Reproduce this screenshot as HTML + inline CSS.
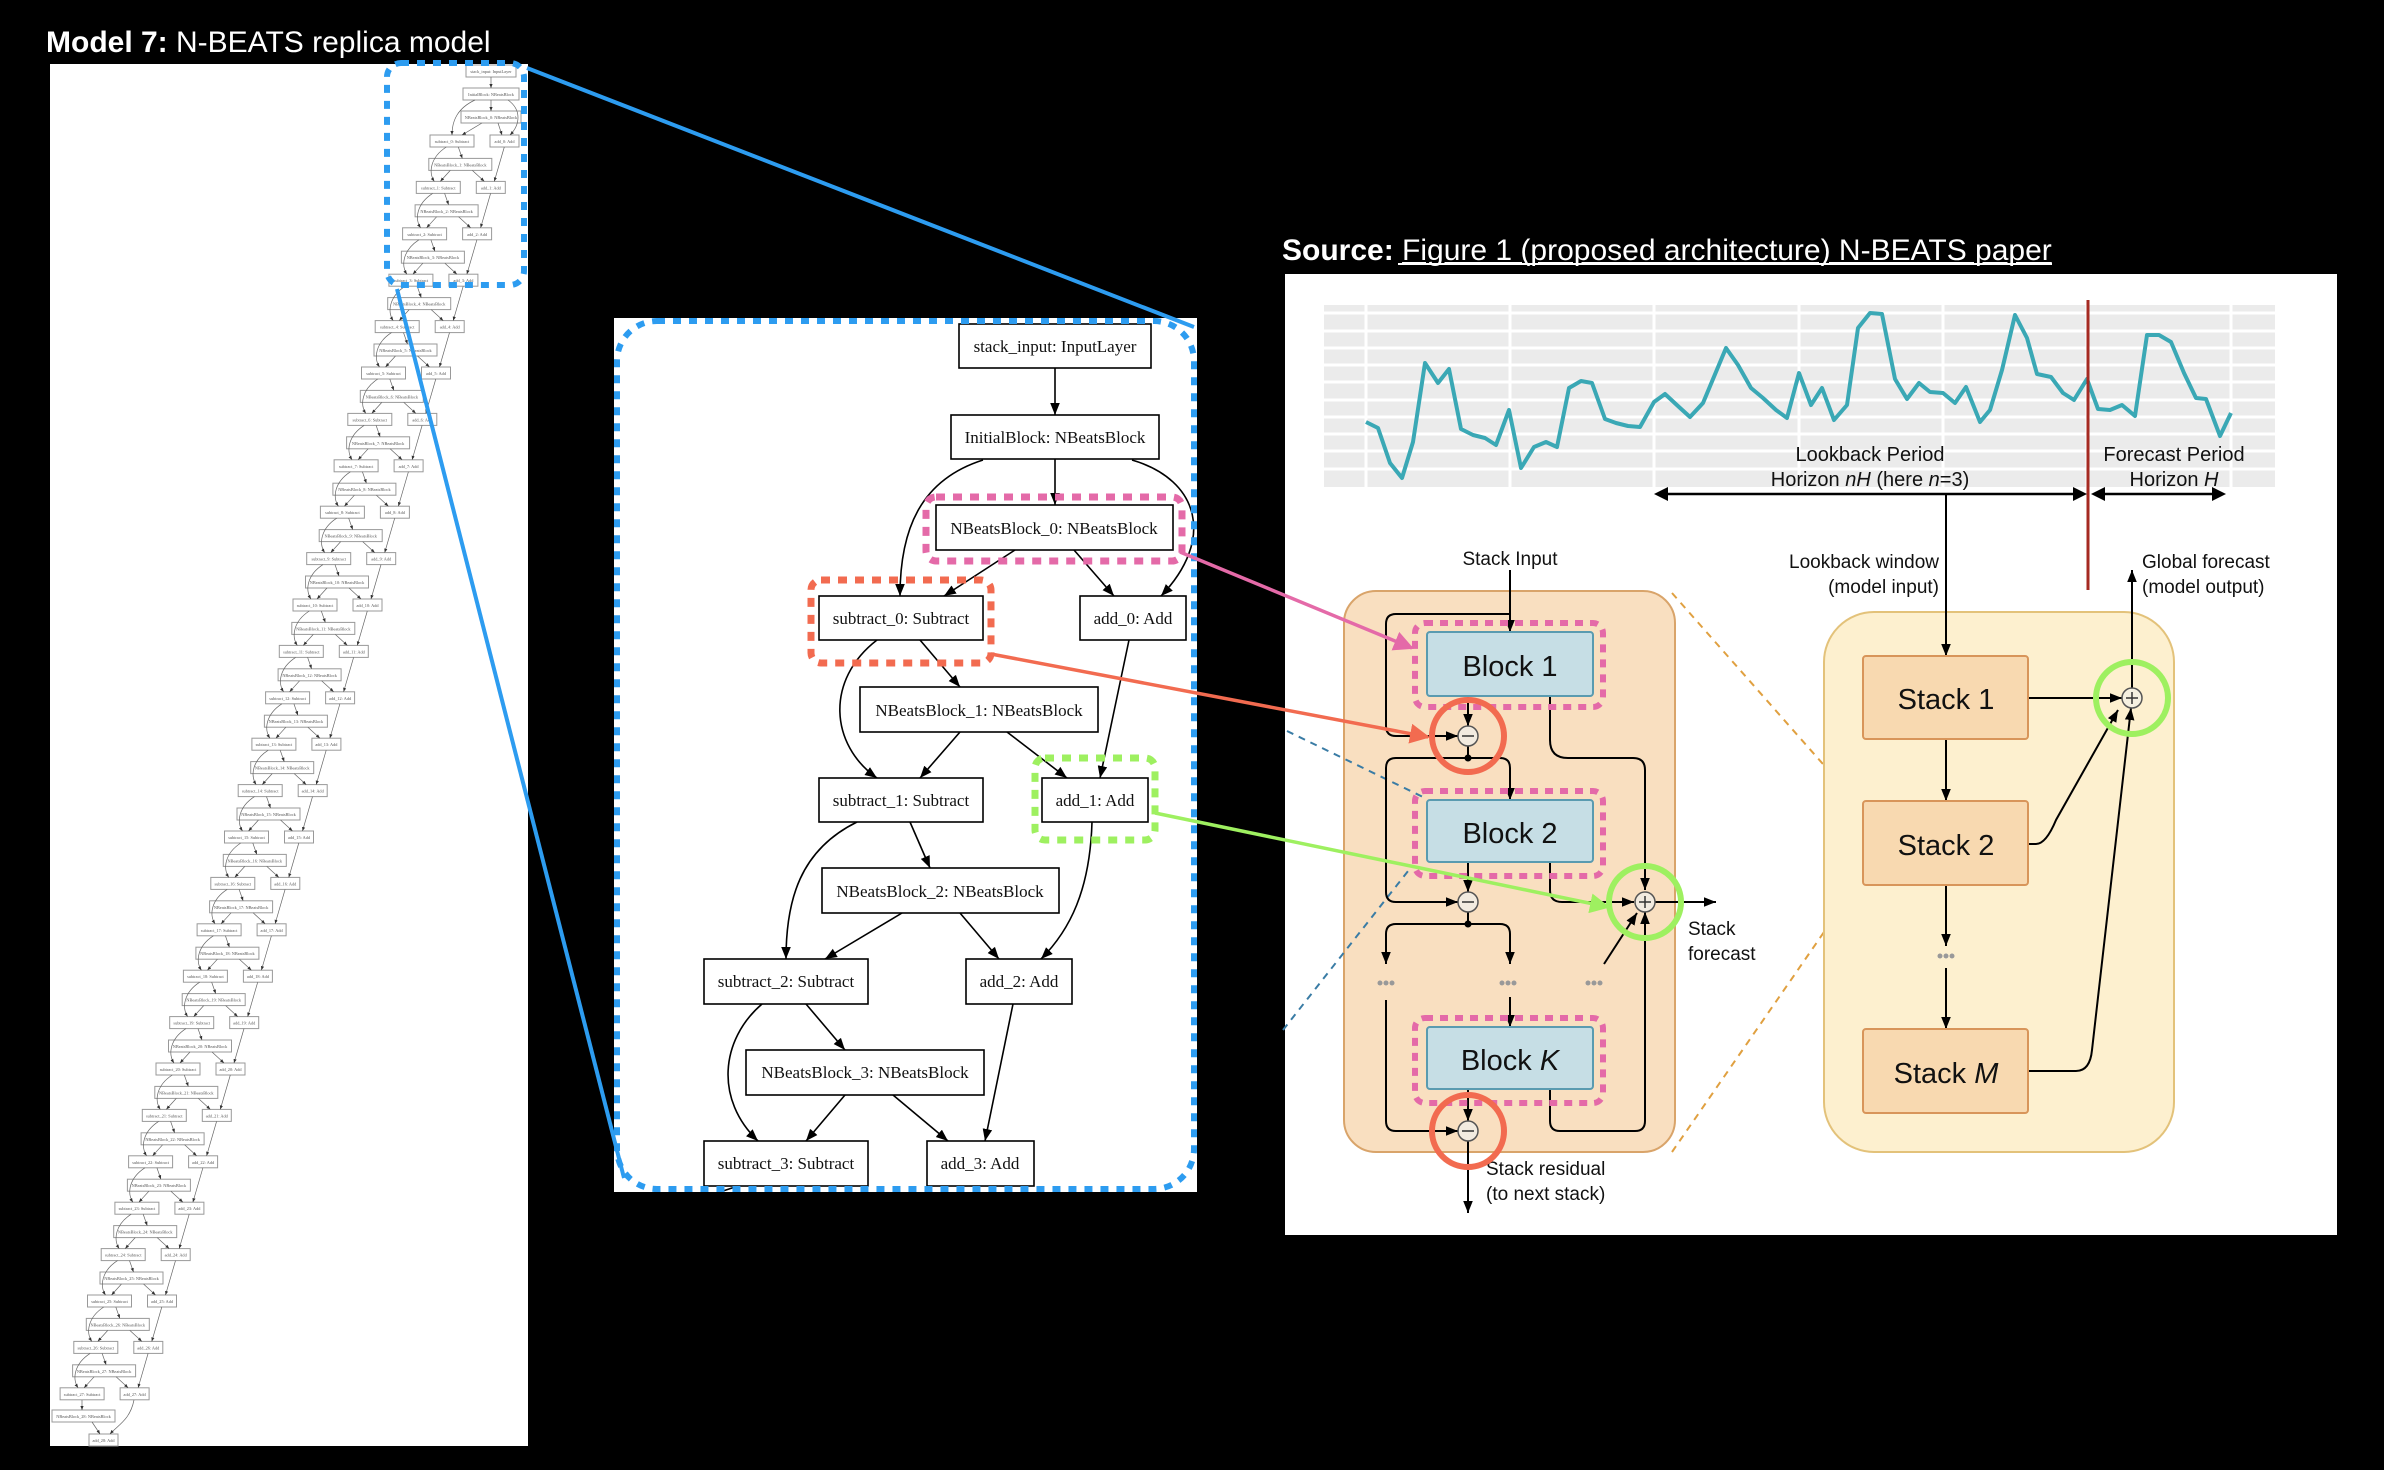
<!DOCTYPE html>
<html><head><meta charset="utf-8"><style>
html,body{margin:0;padding:0;background:#000;}
svg{display:block;}
.mt{font-family:"Liberation Serif",serif;font-size:17px;fill:#111;text-anchor:middle;}
.lt{font-family:"Liberation Serif",serif;font-size:4.3px;fill:#555;text-anchor:middle;}
.ss{font-family:"Liberation Sans",sans-serif;fill:#111;}
</style></head><body>
<svg width="2384" height="1470" viewBox="0 0 2384 1470" xmlns="http://www.w3.org/2000/svg">
<defs>
<marker id="ak" viewBox="0 0 10 10" refX="10" refY="5" markerWidth="12" markerHeight="12" markerUnits="userSpaceOnUse" orient="auto"><path d="M0,1 L10,5 L0,9z" fill="#000"/></marker>
<marker id="as" viewBox="0 0 10 10" refX="10" refY="5" markerWidth="4" markerHeight="4" markerUnits="userSpaceOnUse" orient="auto"><path d="M0,1 L10,5 L0,9z" fill="#333"/></marker>
<marker id="ap" viewBox="0 0 10 10" refX="9" refY="5" markerWidth="20" markerHeight="20" markerUnits="userSpaceOnUse" orient="auto"><path d="M0,0 L10,5 L0,10z" fill="#e46aa8"/></marker>
<marker id="ar" viewBox="0 0 10 10" refX="9" refY="5" markerWidth="20" markerHeight="20" markerUnits="userSpaceOnUse" orient="auto"><path d="M0,0 L10,5 L0,10z" fill="#f26b50"/></marker>
<marker id="ag" viewBox="0 0 10 10" refX="9" refY="5" markerWidth="20" markerHeight="20" markerUnits="userSpaceOnUse" orient="auto"><path d="M0,0 L10,5 L0,10z" fill="#9ef060"/></marker>
<g id="lv" fill="none" stroke="#666" stroke-width="0.7">
<rect x="-22" y="-6" width="44" height="12" fill="#fff" stroke="#999" stroke-width="1"/>
<rect x="38" y="-6" width="29" height="12" fill="#fff" stroke="#999" stroke-width="1"/>
<rect x="-9.5" y="-29" width="63" height="12" fill="#fff" stroke="#999" stroke-width="1"/>
<path d="M20 -40.4 L24 -29" marker-end="url(#as)"/>
<path d="M8 -40.4 C -8 -30 -10 -15 -4 -6" marker-end="url(#as)"/>
<path d="M12 -17 L2 -6" marker-end="url(#as)"/>
<path d="M34 -17 L46 -6" marker-end="url(#as)"/>
<path d="M66 -40.4 L56 -6" marker-end="url(#as)"/>
</g>
</defs>

<rect width="2384" height="1470" fill="#000"/>

<!-- Title left -->
<text x="46" y="52" font-family="Liberation Sans, sans-serif" font-size="30" fill="#fff"><tspan font-weight="bold">Model 7:</tspan> N-BEATS replica model</text>

<!-- Left panel -->
<rect x="50" y="64" width="478" height="1382" fill="#fff"/>
<g>
<rect x="466" y="65" width="50" height="12" fill="#fff" stroke="#999"/><text class="lt" x="491" y="73">stack_input: InputLayer</text>
<rect x="463" y="88" width="56" height="12" fill="#fff" stroke="#999"/><text class="lt" x="491" y="96">InitialBlock: NBeatsBlock</text>
<rect x="461" y="111" width="60" height="12" fill="#fff" stroke="#999"/><text class="lt" x="491" y="119">NBeatsBlock_0: NBeatsBlock</text>
<rect x="430" y="135" width="44" height="12" fill="#fff" stroke="#999"/><text class="lt" x="452" y="143">subtract_0: Subtract</text>
<rect x="490" y="135" width="29" height="12" fill="#fff" stroke="#999"/><text class="lt" x="504.5" y="143">add_0: Add</text>
<g fill="none" stroke="#666" stroke-width="0.7">
<path d="M491 77 V88" marker-end="url(#as)"/><path d="M491 100 V111" marker-end="url(#as)"/>
<path d="M475 100 C 458 108 452 120 452 135" marker-end="url(#as)"/>
<path d="M508 100 C 522 110 520 125 510 135" marker-end="url(#as)"/>
<path d="M482 123 L462 135" marker-end="url(#as)"/><path d="M498 123 L502 135" marker-end="url(#as)"/>
</g>
</g>
<g transform="translate(438.3,187.4)"><use href="#lv"/><text class="lt" y="2">subtract_1: Subtract</text><text class="lt" x="52.5" y="2">add_1: Add</text><text class="lt" x="22" y="-21">NBeatsBlock_1: NBeatsBlock</text></g>
<g transform="translate(424.6,233.8)"><use href="#lv"/><text class="lt" y="2">subtract_2: Subtract</text><text class="lt" x="52.5" y="2">add_2: Add</text><text class="lt" x="22" y="-21">NBeatsBlock_2: NBeatsBlock</text></g>
<g transform="translate(410.9,280.2)"><use href="#lv"/><text class="lt" y="2">subtract_3: Subtract</text><text class="lt" x="52.5" y="2">add_3: Add</text><text class="lt" x="22" y="-21">NBeatsBlock_3: NBeatsBlock</text></g>
<g transform="translate(397.2,326.6)"><use href="#lv"/><text class="lt" y="2">subtract_4: Subtract</text><text class="lt" x="52.5" y="2">add_4: Add</text><text class="lt" x="22" y="-21">NBeatsBlock_4: NBeatsBlock</text></g>
<g transform="translate(383.5,373)"><use href="#lv"/><text class="lt" y="2">subtract_5: Subtract</text><text class="lt" x="52.5" y="2">add_5: Add</text><text class="lt" x="22" y="-21">NBeatsBlock_5: NBeatsBlock</text></g>
<g transform="translate(369.8,419.4)"><use href="#lv"/><text class="lt" y="2">subtract_6: Subtract</text><text class="lt" x="52.5" y="2">add_6: Add</text><text class="lt" x="22" y="-21">NBeatsBlock_6: NBeatsBlock</text></g>
<g transform="translate(356.1,465.8)"><use href="#lv"/><text class="lt" y="2">subtract_7: Subtract</text><text class="lt" x="52.5" y="2">add_7: Add</text><text class="lt" x="22" y="-21">NBeatsBlock_7: NBeatsBlock</text></g>
<g transform="translate(342.4,512.2)"><use href="#lv"/><text class="lt" y="2">subtract_8: Subtract</text><text class="lt" x="52.5" y="2">add_8: Add</text><text class="lt" x="22" y="-21">NBeatsBlock_8: NBeatsBlock</text></g>
<g transform="translate(328.7,558.6)"><use href="#lv"/><text class="lt" y="2">subtract_9: Subtract</text><text class="lt" x="52.5" y="2">add_9: Add</text><text class="lt" x="22" y="-21">NBeatsBlock_9: NBeatsBlock</text></g>
<g transform="translate(315,605)"><use href="#lv"/><text class="lt" y="2">subtract_10: Subtract</text><text class="lt" x="52.5" y="2">add_10: Add</text><text class="lt" x="22" y="-21">NBeatsBlock_10: NBeatsBlock</text></g>
<g transform="translate(301.3,651.4)"><use href="#lv"/><text class="lt" y="2">subtract_11: Subtract</text><text class="lt" x="52.5" y="2">add_11: Add</text><text class="lt" x="22" y="-21">NBeatsBlock_11: NBeatsBlock</text></g>
<g transform="translate(287.6,697.8)"><use href="#lv"/><text class="lt" y="2">subtract_12: Subtract</text><text class="lt" x="52.5" y="2">add_12: Add</text><text class="lt" x="22" y="-21">NBeatsBlock_12: NBeatsBlock</text></g>
<g transform="translate(273.9,744.2)"><use href="#lv"/><text class="lt" y="2">subtract_13: Subtract</text><text class="lt" x="52.5" y="2">add_13: Add</text><text class="lt" x="22" y="-21">NBeatsBlock_13: NBeatsBlock</text></g>
<g transform="translate(260.2,790.6)"><use href="#lv"/><text class="lt" y="2">subtract_14: Subtract</text><text class="lt" x="52.5" y="2">add_14: Add</text><text class="lt" x="22" y="-21">NBeatsBlock_14: NBeatsBlock</text></g>
<g transform="translate(246.5,837)"><use href="#lv"/><text class="lt" y="2">subtract_15: Subtract</text><text class="lt" x="52.5" y="2">add_15: Add</text><text class="lt" x="22" y="-21">NBeatsBlock_15: NBeatsBlock</text></g>
<g transform="translate(232.8,883.4)"><use href="#lv"/><text class="lt" y="2">subtract_16: Subtract</text><text class="lt" x="52.5" y="2">add_16: Add</text><text class="lt" x="22" y="-21">NBeatsBlock_16: NBeatsBlock</text></g>
<g transform="translate(219.1,929.8)"><use href="#lv"/><text class="lt" y="2">subtract_17: Subtract</text><text class="lt" x="52.5" y="2">add_17: Add</text><text class="lt" x="22" y="-21">NBeatsBlock_17: NBeatsBlock</text></g>
<g transform="translate(205.4,976.2)"><use href="#lv"/><text class="lt" y="2">subtract_18: Subtract</text><text class="lt" x="52.5" y="2">add_18: Add</text><text class="lt" x="22" y="-21">NBeatsBlock_18: NBeatsBlock</text></g>
<g transform="translate(191.7,1022.6)"><use href="#lv"/><text class="lt" y="2">subtract_19: Subtract</text><text class="lt" x="52.5" y="2">add_19: Add</text><text class="lt" x="22" y="-21">NBeatsBlock_19: NBeatsBlock</text></g>
<g transform="translate(178,1069)"><use href="#lv"/><text class="lt" y="2">subtract_20: Subtract</text><text class="lt" x="52.5" y="2">add_20: Add</text><text class="lt" x="22" y="-21">NBeatsBlock_20: NBeatsBlock</text></g>
<g transform="translate(164.3,1115.4)"><use href="#lv"/><text class="lt" y="2">subtract_21: Subtract</text><text class="lt" x="52.5" y="2">add_21: Add</text><text class="lt" x="22" y="-21">NBeatsBlock_21: NBeatsBlock</text></g>
<g transform="translate(150.6,1161.8)"><use href="#lv"/><text class="lt" y="2">subtract_22: Subtract</text><text class="lt" x="52.5" y="2">add_22: Add</text><text class="lt" x="22" y="-21">NBeatsBlock_22: NBeatsBlock</text></g>
<g transform="translate(136.9,1208.2)"><use href="#lv"/><text class="lt" y="2">subtract_23: Subtract</text><text class="lt" x="52.5" y="2">add_23: Add</text><text class="lt" x="22" y="-21">NBeatsBlock_23: NBeatsBlock</text></g>
<g transform="translate(123.2,1254.6)"><use href="#lv"/><text class="lt" y="2">subtract_24: Subtract</text><text class="lt" x="52.5" y="2">add_24: Add</text><text class="lt" x="22" y="-21">NBeatsBlock_24: NBeatsBlock</text></g>
<g transform="translate(109.5,1301)"><use href="#lv"/><text class="lt" y="2">subtract_25: Subtract</text><text class="lt" x="52.5" y="2">add_25: Add</text><text class="lt" x="22" y="-21">NBeatsBlock_25: NBeatsBlock</text></g>
<g transform="translate(95.8,1347.4)"><use href="#lv"/><text class="lt" y="2">subtract_26: Subtract</text><text class="lt" x="52.5" y="2">add_26: Add</text><text class="lt" x="22" y="-21">NBeatsBlock_26: NBeatsBlock</text></g>
<g transform="translate(82.1,1393.8)"><use href="#lv"/><text class="lt" y="2">subtract_27: Subtract</text><text class="lt" x="52.5" y="2">add_27: Add</text><text class="lt" x="22" y="-21">NBeatsBlock_27: NBeatsBlock</text></g>
<g>
<rect x="52" y="1410" width="63" height="12" fill="#fff" stroke="#999"/><text class="lt" x="83.5" y="1418">NBeatsBlock_28: NBeatsBlock</text>
<rect x="89" y="1434" width="29" height="12" fill="#fff" stroke="#999"/><text class="lt" x="103.5" y="1442">add_28: Add</text>
<g fill="none" stroke="#666" stroke-width="0.7"><path d="M82 1400 V1410" marker-end="url(#as)"/><path d="M92 1422 L100 1434" marker-end="url(#as)"/><path d="M134 1400 C 130 1420 118 1425 110 1434" marker-end="url(#as)"/></g>
</g>
<!-- left blue dotted selection -->
<rect x="387" y="63" width="137" height="222" rx="14" fill="none" stroke="#2d9cf0" stroke-width="6" stroke-dasharray="8 8"/>

<!-- Middle panel -->
<rect x="614" y="318" width="583" height="874" fill="#fff"/>
<g fill="none" stroke="#000" stroke-width="1.6">
<path d="M1055 368 V415" marker-end="url(#ak)"/>
<path d="M1055 459 V505" marker-end="url(#ak)"/>
<path d="M983 460 C 920 480 900 530 900 596" marker-end="url(#ak)"/>
<path d="M1132 460 C 1200 480 1215 540 1161 596" marker-end="url(#ak)"/>
<path d="M1015 550 L944 596" marker-end="url(#ak)"/>
<path d="M1074 550 L1114 596" marker-end="url(#ak)"/>
<path d="M920 640 L960 687" marker-end="url(#ak)"/>
<path d="M877 640 C 825 680 830 745 877 778" marker-end="url(#ak)"/>
<path d="M960 732 L920 778" marker-end="url(#ak)"/>
<path d="M1007 732 L1067 778" marker-end="url(#ak)"/>
<path d="M1129 640 L1100 778" marker-end="url(#ak)"/>
<path d="M910 822 L930 868" marker-end="url(#ak)"/>
<path d="M857 822 C 800 850 786 900 786 959" marker-end="url(#ak)"/>
<path d="M902 913 L825 959" marker-end="url(#ak)"/>
<path d="M960 913 L999 959" marker-end="url(#ak)"/>
<path d="M1092 822 C 1090 890 1070 930 1041 959" marker-end="url(#ak)"/>
<path d="M806 1004 L845 1050" marker-end="url(#ak)"/>
<path d="M762 1004 C 720 1040 715 1100 758 1141" marker-end="url(#ak)"/>
<path d="M845 1095 L806 1141" marker-end="url(#ak)"/>
<path d="M893 1095 L948 1141" marker-end="url(#ak)"/>
<path d="M1013 1004 L985 1141" marker-end="url(#ak)"/>
<path d="M738 1186 L720 1192 M798 1186 L802 1192 M978 1186 V1192"/>
</g>
<g fill="#fff" stroke="#000" stroke-width="1.6">
<rect x="959" y="324" width="192" height="44"/>
<rect x="951" y="415" width="208" height="44"/>
<rect x="936" y="505" width="237" height="45"/>
<rect x="819" y="596" width="164" height="44"/>
<rect x="1080" y="596" width="106" height="44"/>
<rect x="860" y="687" width="238" height="45"/>
<rect x="819" y="778" width="164" height="44"/>
<rect x="1042" y="778" width="106" height="44"/>
<rect x="822" y="868" width="237" height="45"/>
<rect x="704" y="959" width="164" height="45"/>
<rect x="966" y="959" width="106" height="45"/>
<rect x="746" y="1050" width="238" height="45"/>
<rect x="704" y="1141" width="164" height="45"/>
<rect x="927" y="1141" width="107" height="45"/>
</g>
<text class="mt" x="1055" y="352">stack_input: InputLayer</text>
<text class="mt" x="1055" y="443">InitialBlock: NBeatsBlock</text>
<text class="mt" x="1054" y="534">NBeatsBlock_0: NBeatsBlock</text>
<text class="mt" x="901" y="624">subtract_0: Subtract</text>
<text class="mt" x="1133" y="624">add_0: Add</text>
<text class="mt" x="979" y="716">NBeatsBlock_1: NBeatsBlock</text>
<text class="mt" x="901" y="806">subtract_1: Subtract</text>
<text class="mt" x="1095" y="806">add_1: Add</text>
<text class="mt" x="940" y="897">NBeatsBlock_2: NBeatsBlock</text>
<text class="mt" x="786" y="987">subtract_2: Subtract</text>
<text class="mt" x="1019" y="987">add_2: Add</text>
<text class="mt" x="865" y="1078">NBeatsBlock_3: NBeatsBlock</text>
<text class="mt" x="786" y="1169">subtract_3: Subtract</text>
<text class="mt" x="980" y="1169">add_3: Add</text>
<!-- highlights -->
<rect x="926" y="497" width="256" height="64" rx="10" fill="none" stroke="#e46aa8" stroke-width="7" stroke-dasharray="9 8"/>
<rect x="811" y="580" width="180" height="83" rx="10" fill="none" stroke="#f26b50" stroke-width="7" stroke-dasharray="9 8"/>
<rect x="1035" y="758" width="120" height="82" rx="10" fill="none" stroke="#9ef060" stroke-width="7" stroke-dasharray="9 8"/>
<rect x="617" y="321" width="577" height="868" rx="40" fill="none" stroke="#2d9cf0" stroke-width="6" stroke-dasharray="8 8"/>

<!-- blue connectors -->
<path d="M527 68 L1194 327" stroke="#2d9cf0" stroke-width="4" fill="none"/>
<path d="M397 289 L624 1178" stroke="#2d9cf0" stroke-width="4" fill="none"/>

<!-- Right section -->
<text x="1282" y="260" font-family="Liberation Sans, sans-serif" font-size="30" fill="#fff"><tspan font-weight="bold">Source:</tspan> <tspan text-decoration="underline">Figure 1 (proposed architecture) N-BEATS paper</tspan></text>
<line x1="1398" y1="264" x2="2052" y2="264" stroke="#fff" stroke-width="2"/>
<rect x="1285" y="274" width="1052" height="961" fill="#fff"/>

<!-- chart -->
<rect x="1324" y="305" width="951" height="182" fill="#ebebeb"/>
<g stroke="#fff" stroke-width="3">
<line x1="1324" y1="313" x2="2275" y2="313"/><line x1="1324" y1="331" x2="2275" y2="331"/><line x1="1324" y1="348" x2="2275" y2="348"/><line x1="1324" y1="365" x2="2275" y2="365"/><line x1="1324" y1="382" x2="2275" y2="382"/><line x1="1324" y1="400" x2="2275" y2="400"/><line x1="1324" y1="417" x2="2275" y2="417"/><line x1="1324" y1="434" x2="2275" y2="434"/><line x1="1324" y1="451" x2="2275" y2="451"/><line x1="1324" y1="469" x2="2275" y2="469"/>
<line x1="1366" y1="305" x2="1366" y2="487"/><line x1="1510" y1="305" x2="1510" y2="487"/><line x1="1654" y1="305" x2="1654" y2="487"/><line x1="1799" y1="305" x2="1799" y2="487"/><line x1="1943" y1="305" x2="1943" y2="487"/><line x1="2087" y1="305" x2="2087" y2="487"/><line x1="2231" y1="305" x2="2231" y2="487"/>
</g>
<polyline fill="none" stroke="#3aa8b5" stroke-width="4" stroke-linejoin="round" points="1366,422 1378,428 1390,463 1402,478 1413,442 1425,363 1438,383 1449,369 1461,429 1473,435 1485,438 1496,445 1509,410 1521,468 1534,447 1546,442 1557,447 1569,388 1581,381 1592,383 1605,419 1616,423 1628,426 1640,427 1654,402 1665,394 1679,407 1690,417 1703,403 1726,348 1738,365 1751,388 1763,398 1776,410 1787,418 1799,373 1811,405 1822,388 1834,420 1847,405 1858,328 1870,313 1882,314 1895,379 1907,399 1919,383 1930,392 1943,393 1955,403 1966,387 1980,422 1990,410 2002,370 2015,315 2027,338 2037,374 2051,377 2063,393 2074,400 2087,379 2098,409 2110,410 2122,405 2135,416 2147,335 2159,335 2171,342 2184,373 2196,398 2206,399 2220,436 2231,413"/>
<line x1="2088" y1="300" x2="2088" y2="590" stroke="#a52a22" stroke-width="3"/>
<text class="ss" x="1870" y="461" font-size="20" text-anchor="middle">Lookback Period</text>
<text class="ss" x="1870" y="486" font-size="20" text-anchor="middle">Horizon <tspan font-style="italic">nH</tspan> (here <tspan font-style="italic">n</tspan>=3)</text>
<text class="ss" x="2174" y="461" font-size="20" text-anchor="middle">Forecast Period</text>
<text class="ss" x="2174" y="486" font-size="20" text-anchor="middle">Horizon <tspan font-style="italic">H</tspan></text>
<g stroke="#000" stroke-width="2.5" fill="none">
<line x1="1658" y1="494" x2="2083" y2="494"/><line x1="2095" y1="494" x2="2222" y2="494"/>
</g>
<g fill="#000"><path d="M1654 494 l14 -7 v14z"/><path d="M2087 494 l-14 -7 v14z"/><path d="M2091 494 l14 -7 v14z"/><path d="M2226 494 l-14 -7 v14z"/></g>

<!-- orange dashed zoom lines -->
<g stroke="#e0a040" stroke-width="2" stroke-dasharray="7 6" fill="none">
<line x1="1672" y1="593" x2="1860" y2="806"/><line x1="1672" y1="1152" x2="1860" y2="880"/>
</g>

<!-- stack block -->
<rect x="1344" y="591" width="331" height="561" rx="32" fill="#f9dfc0" stroke="#d9a46a" stroke-width="2"/>
<!-- yellow box -->
<rect x="1824" y="612" width="350" height="540" rx="50" fill="#fdf0cf" stroke="#e3c27a" stroke-width="2"/>

<!-- blue dashed -->
<g stroke="#3a7ca5" stroke-width="2" stroke-dasharray="7 6" fill="none">
<line x1="1287" y1="731" x2="1425" y2="798"/><line x1="1283" y1="1030" x2="1412" y2="866"/>
</g>

<g stroke="#000" stroke-width="2" fill="none">
<path d="M1510 570 V632" marker-end="url(#ak)"/>
<path d="M1510 614 H1396 Q1386 614 1386 624 V726 Q1386 736 1396 736 H1458" marker-end="url(#ak)"/>
<path d="M1468 696 V726" marker-end="url(#ak)"/>
<path d="M1550 696 V740 Q1550 758 1568 758 H1633 Q1645 758 1645 770 V890" marker-end="url(#ak)"/>
<path d="M1468 746 V758"/>
<path d="M1468 758 H1396 Q1386 758 1386 768 V892 Q1386 902 1396 902 H1458" marker-end="url(#ak)"/>
<path d="M1468 758 H1500 Q1510 758 1510 768 V800" marker-end="url(#ak)"/>
<path d="M1468 862 V892" marker-end="url(#ak)"/>
<path d="M1550 862 V890 Q1550 902 1562 902 H1634" marker-end="url(#ak)"/>
<path d="M1468 912 V924"/>
<path d="M1468 924 H1396 Q1386 924 1386 934 V964" marker-end="url(#ak)"/>
<path d="M1468 924 H1500 Q1510 924 1510 934 V964" marker-end="url(#ak)"/>
<path d="M1386 1000 V1121 Q1386 1131 1396 1131 H1458" marker-end="url(#ak)"/>
<path d="M1510 997 V1027" marker-end="url(#ak)"/>
<path d="M1604 964 L1637 913" marker-end="url(#ak)"/>
<path d="M1468 1089 V1121" marker-end="url(#ak)"/>
<path d="M1550 1089 V1121 Q1550 1131 1560 1131 H1635 Q1645 1131 1645 1121 V912" marker-end="url(#ak)"/>
<path d="M1655 902 H1716" marker-end="url(#ak)"/>
<path d="M1468 1141 V1213" marker-end="url(#ak)"/>
</g>
<g fill="#000"><circle cx="1468" cy="758" r="3.5"/><circle cx="1468" cy="924" r="3.5"/></g>
<g fill="#f2ebe0" stroke="#555" stroke-width="1.5">
<circle cx="1468" cy="736" r="10"/><circle cx="1468" cy="902" r="10"/><circle cx="1468" cy="1131" r="10"/><circle cx="1645" cy="902" r="10"/>
</g>
<g stroke="#333" stroke-width="1.5"><line x1="1462" y1="736" x2="1474" y2="736"/><line x1="1462" y1="902" x2="1474" y2="902"/><line x1="1462" y1="1131" x2="1474" y2="1131"/><line x1="1639" y1="902" x2="1651" y2="902"/><line x1="1645" y1="896" x2="1645" y2="908"/></g>
<g fill="#999"><circle cx="1380" cy="983" r="2.5"/><circle cx="1386" cy="983" r="2.5"/><circle cx="1392" cy="983" r="2.5"/><circle cx="1502" cy="983" r="2.5"/><circle cx="1508" cy="983" r="2.5"/><circle cx="1514" cy="983" r="2.5"/><circle cx="1588" cy="983" r="2.5"/><circle cx="1594" cy="983" r="2.5"/><circle cx="1600" cy="983" r="2.5"/></g>

<g fill="#c6dee5" stroke="#5a9bb0" stroke-width="2">
<rect x="1427" y="632" width="166" height="64" rx="3"/>
<rect x="1427" y="800" width="166" height="62" rx="3"/>
<rect x="1427" y="1027" width="166" height="62" rx="3"/>
</g>
<text class="ss" x="1510" y="676" font-size="29" text-anchor="middle">Block 1</text>
<text class="ss" x="1510" y="843" font-size="29" text-anchor="middle">Block 2</text>
<text class="ss" x="1510" y="1070" font-size="29" text-anchor="middle">Block <tspan font-style="italic">K</tspan></text>
<text class="ss" x="1510" y="565" font-size="19" text-anchor="middle">Stack Input</text>
<text class="ss" x="1688" y="935" font-size="19">Stack</text>
<text class="ss" x="1688" y="960" font-size="19">forecast</text>
<text class="ss" x="1486" y="1175" font-size="19">Stack residual</text>
<text class="ss" x="1486" y="1200" font-size="19">(to next stack)</text>

<g fill="none" stroke-width="6" stroke-dasharray="8 7" stroke="#e46aa8">
<rect x="1415" y="623" width="188" height="84" rx="10"/>
<rect x="1415" y="791" width="188" height="85" rx="10"/>
<rect x="1415" y="1018" width="188" height="85" rx="10"/>
</g>
<g fill="none" stroke="#f26b50" stroke-width="6"><circle cx="1468" cy="736" r="36"/><circle cx="1468" cy="1131" r="36"/></g>
<circle cx="1645" cy="902" r="36" fill="none" stroke="#9ef060" stroke-width="6"/>

<!-- right stacks -->
<g stroke="#000" stroke-width="2" fill="none">
<path d="M1946 494 V656" marker-end="url(#ak)"/>
<path d="M2028 698 H2122" marker-end="url(#ak)"/>
<path d="M1946 739 V801" marker-end="url(#ak)"/>
<path d="M1946 885 V946" marker-end="url(#ak)"/>
<path d="M1946 968 V1029" marker-end="url(#ak)"/>
<path d="M2028 844 H2036 Q2046 844 2056 820 L2118 710" marker-end="url(#ak)"/>
<path d="M2028 1071 H2076 Q2090 1071 2092 1050 L2131 708" marker-end="url(#ak)"/>
<path d="M2132 688 V570" marker-end="url(#ak)"/>
</g>
<g fill="#f8d9b0" stroke="#d8955a" stroke-width="2">
<rect x="1863" y="656" width="165" height="83" rx="3"/>
<rect x="1863" y="801" width="165" height="84" rx="3"/>
<rect x="1863" y="1029" width="165" height="84" rx="3"/>
</g>
<text class="ss" x="1946" y="709" font-size="29" text-anchor="middle">Stack 1</text>
<text class="ss" x="1946" y="855" font-size="29" text-anchor="middle">Stack 2</text>
<text class="ss" x="1946" y="1083" font-size="29" text-anchor="middle">Stack <tspan font-style="italic">M</tspan></text>
<g fill="#999"><circle cx="1940" cy="956" r="2.5"/><circle cx="1946" cy="956" r="2.5"/><circle cx="1952" cy="956" r="2.5"/></g>
<circle cx="2132" cy="698" r="10" fill="#f5f0e0" stroke="#555" stroke-width="1.5"/>
<g stroke="#333" stroke-width="1.5"><line x1="2126" y1="698" x2="2138" y2="698"/><line x1="2132" y1="692" x2="2132" y2="704"/></g>
<circle cx="2132" cy="698" r="36" fill="none" stroke="#9ef060" stroke-width="6"/>
<text class="ss" x="1939" y="568" font-size="19" text-anchor="end">Lookback window</text>
<text class="ss" x="1939" y="593" font-size="19" text-anchor="end">(model input)</text>
<text class="ss" x="2142" y="568" font-size="19">Global forecast</text>
<text class="ss" x="2142" y="593" font-size="19">(model output)</text>

<!-- colored connectors -->
<path d="M1180 552 L1412 648" stroke="#e46aa8" stroke-width="3.5" fill="none" marker-end="url(#ap)"/>
<path d="M991 654 L1428 737" stroke="#f26b50" stroke-width="3.5" fill="none" marker-end="url(#ar)"/>
<path d="M1155 813 L1608 907" stroke="#9ef060" stroke-width="3.5" fill="none" marker-end="url(#ag)"/>
</svg>
</body></html>
